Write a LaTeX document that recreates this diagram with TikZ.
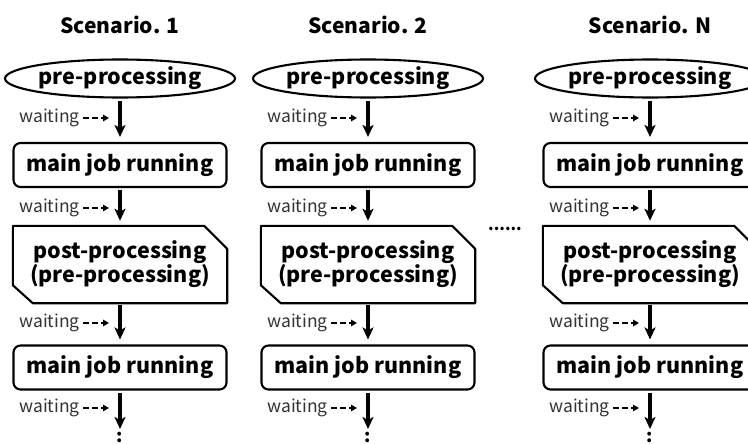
\documentclass[tikz,border=0pt]{standalone}
\usepackage{fontspec}
\setmainfont{Noto Sans CJK JP}
\usetikzlibrary{shapes.geometric,arrows.meta}
\tikzset{
  title/.style={font=\bfseries\fontsize{21}{24}\selectfont},
  txt/.style={font=\bfseries\fontsize{21.5}{24}\selectfont, align=center},
  prebox/.style={txt, ellipse, draw, line width=2.1pt, minimum width=214pt, minimum height=38pt, inner sep=0pt},
  jobbox/.style={txt, rectangle, draw, rounded corners=7pt, line width=2.1pt, minimum width=213pt, minimum height=44pt, inner sep=0pt},
  postbox/.style={txt, rectangle, minimum width=214pt, minimum height=77pt, inner sep=0pt},
  wait/.style={font=\fontsize{17.5}{19}\selectfont, text=black!80, inner sep=0pt, anchor=east},
  flow/.style={-{Stealth[length=12pt,width=11pt,inset=3pt]}, line width=3.2pt, shorten <=2pt, shorten >=5pt},
  dflow/.style={-{Triangle[length=6pt,width=6.5pt]}, line width=2.3pt, dash pattern=on 6pt off 3pt},
}
\begin{document}
\begin{tikzpicture}[x=1pt,y=-1pt]
\clip (0,0) rectangle (748,444);
\useasboundingbox (0,0) rectangle (748,444);
\foreach \c/\t in {0/1,248/2,530/N}{
  \begin{scope}[xshift=\c pt]
    \node[title] (title\t) at (120,25) {Scenario. \t};
    \node[prebox] (pre\t) at (120,78.5) {pre-processing};
    \node[jobbox] (jobA\t) at (120,165) {main job running};
    \node[postbox] (post\t) at (120,264.5) {post-processing\\(pre-processing)};
    \draw[line width=2.1pt, line join=round]
      (post\t.north west) -- ([xshift=-23pt]post\t.north east)
      -- ([yshift=-23pt]post\t.north east) -- (post\t.south east)
      -- ([xshift=20pt]post\t.south west) -- ([yshift=18pt]post\t.south west) -- cycle;
    \node[jobbox] (jobB\t) at (120,367.5) {main job running};
    \coordinate (end\t) at (120,429);
    \node[font=\bfseries\fontsize{18}{20}\selectfont, inner sep=0pt] (dots\t) at (120,437) {:};
    \draw[flow] (pre\t) -- (jobA\t);
    \draw[flow] (jobA\t) -- (post\t);
    \draw[flow] (post\t) -- (jobB\t);
    \draw[flow, shorten >=0pt] (jobB\t) -- (end\t);
    \foreach \y/\k in {118/a,208/b,323/c,408/d}{
      \node[wait] (w\k\t) at (80,\y) {waiting};
      \coordinate (wt\k\t) at (109,\y);
      \draw[dflow] ([xshift=3pt]w\k\t.east) -- (wt\k\t);
    }
  \end{scope}
}
\node[font=\bfseries\fontsize{16}{18}\selectfont, inner sep=0pt] (more) at (505,229) {......};
\end{tikzpicture}
\end{document}
